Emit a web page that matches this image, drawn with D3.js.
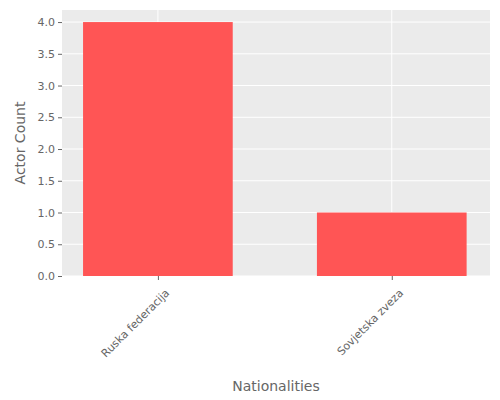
<!DOCTYPE html>
<html><head><meta charset="utf-8">
<script src="https://cdn.jsdelivr.net/npm/d3@7"></script>
<style>body{margin:0;background:#fff;font-family:"DejaVu Sans",sans-serif;}</style>
</head><body>
<svg id="chart" width="500" height="400"></svg>
<script>
const categories = ["Ruska federacija", "Sovjetska zveza"];
const counts = [4, 1];
const yTicks = [0, 0.5, 1.0, 1.5, 2.0, 2.5, 3.0, 3.5, 4.0];

const margin = {top: 10, right: 10, bottom: 124, left: 62},
    width = 500 - margin.left - margin.right,
    height = 400 - margin.top - margin.bottom;

const svg = d3.select("#chart").append("g")
    .attr("transform", `translate(${margin.left},${margin.top})`);

svg.append("rect").attr("width", width).attr("height", height).attr("fill", "#ebebeb");

const x = d3.scaleLinear().domain([-0.41, 1.42]).range([0, width]);
const y = d3.scaleLinear().domain([0, 4.19]).range([height, 0]);
const barW = x(0.64) - x(0);

// grid
svg.selectAll(".grid").data(yTicks).enter().append("line")
    .attr("x1", 0).attr("x2", width)
    .attr("y1", d => y(d)).attr("y2", d => y(d))
    .attr("stroke", "#fff").attr("stroke-width", 1);
svg.selectAll(".vgrid").data(categories).enter().append("line")
    .attr("x1", (d, i) => x(i)).attr("x2", (d, i) => x(i))
    .attr("y1", 0).attr("y2", height)
    .attr("stroke", "#fff").attr("stroke-width", 1);

// bars
svg.selectAll(".bar").data(counts).enter().append("rect")
    .attr("x", (d, i) => x(i) - barW / 2)
    .attr("width", barW)
    .attr("y", d => y(d))
    .attr("height", d => height - y(d))
    .attr("fill", "#ff5555");

// y axis
const yAxis = svg.append("g")
    .call(d3.axisLeft(y).tickValues(yTicks).tickFormat(d3.format(".1f")).tickSize(4));
yAxis.select(".domain").remove();
yAxis.selectAll("line").attr("stroke", "#666");
yAxis.selectAll("text").attr("fill", "#666").style("font-size", "11px").style("font-family", "DejaVu Sans");

// x axis
const xAxis = svg.append("g").attr("transform", `translate(0,${height})`)
    .call(d3.axisBottom(x).tickValues([0, 1]).tickFormat(i => categories[i]).tickSize(4));
xAxis.select(".domain").remove();
xAxis.selectAll("line").attr("stroke", "#666");
xAxis.selectAll("text").attr("fill", "#666").style("font-size", "11px").style("font-family", "DejaVu Sans")
    .attr("text-anchor", "end").attr("dy", "0.35em")
    .attr("transform", "translate(4,10) rotate(-45)");

svg.append("text").attr("x", width / 2).attr("y", height + 115)
    .attr("text-anchor", "middle").attr("fill", "#666")
    .style("font-size", "14px").text("Nationalities");
svg.append("text").attr("transform", `translate(-37,${height / 2}) rotate(-90)`)
    .attr("text-anchor", "middle").attr("fill", "#666")
    .style("font-size", "14px").text("Actor Count");
</script>
</body></html>
